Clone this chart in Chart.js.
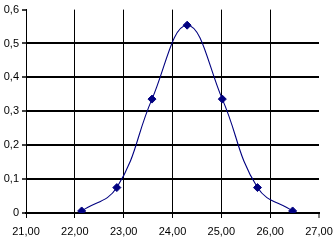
<!DOCTYPE html>
<html>
<head>
<meta charset="utf-8">
<script src="https://cdn.jsdelivr.net/npm/chart.js@4/dist/chart.umd.min.js"></script>
<style>
  html, body { margin: 0; padding: 0; background: #fff; }
  #wrap { width: 334px; height: 241px; }
</style>
</head>
<body>
<div id="wrap"><canvas id="myChart" width="334" height="241"></canvas></div>
<script>
// values
const xValues = [22.14, 22.86, 23.58, 24.30, 25.02, 25.74, 26.46];
const yValues = [0.006, 0.075, 0.336, 0.554, 0.336, 0.075, 0.006];
const xTicks = [21, 22, 23, 24, 25, 26, 27];
const yTicks = [0, 0.1, 0.2, 0.3, 0.4, 0.5, 0.6];

const points = xValues.map((x, i) => ({ x: x, y: yValues[i] }));
const navy = '#000080';
const font = { family: 'Liberation Sans, Arial, sans-serif', size: 11 };

new Chart('myChart', {
  type: 'scatter',
  data: {
    datasets: [{
      data: points,
      showLine: true,
      borderColor: navy,
      borderWidth: 1.1,
      tension: 0.42,
      pointStyle: 'rectRot',
      pointRadius: 4,
      pointBackgroundColor: navy,
      pointBorderColor: navy,
      pointBorderWidth: 1
    }]
  },
  options: {
    responsive: false,
    animation: false,
    layout: { padding: { top: 6, right: 15, left: 0, bottom: 0 } },
    plugins: { legend: { display: false }, tooltip: { enabled: false } },
    scales: {
      x: {
        type: 'linear',
        min: xTicks[0],
        max: xTicks[xTicks.length - 1],
        afterBuildTicks: s => { s.ticks = xTicks.map(v => ({ value: v })); },
        afterFit: s => { s.height = 28; s.paddingLeft = 0; s.paddingRight = 0; },
        ticks: {
          color: '#000',
          font: font,
          padding: 7,
          maxRotation: 0,
          callback: v => v.toFixed(2).replace('.', ',')
        },
        grid: {
          color: '#000',
          lineWidth: c => (c.tick && c.tick.value === 27) ? 0 : 1,
          tickWidth: 1,
          tickColor: '#000',
          tickLength: 5
        },
        border: { color: '#000', width: 2 }
      },
      y: {
        min: yTicks[0],
        max: yTicks[yTicks.length - 1],
        afterBuildTicks: s => { s.ticks = yTicks.map(v => ({ value: v })); },
        afterFit: s => { s.width = 26; },
        ticks: {
          color: '#000',
          font: font,
          padding: 3,
          callback: v => v === 0 ? '0' : v.toFixed(1).replace('.', ',')
        },
        grid: {
          color: '#000',
          lineWidth: c => (c.tick && Math.abs(c.tick.value - 0.6) < 1e-9) ? 0 : 2,
          tickWidth: 1.5,
          tickColor: '#000',
          tickLength: 4
        },
        border: { color: '#000', width: 1 }
      }
    }
  }
});
</script>
</body>
</html>
